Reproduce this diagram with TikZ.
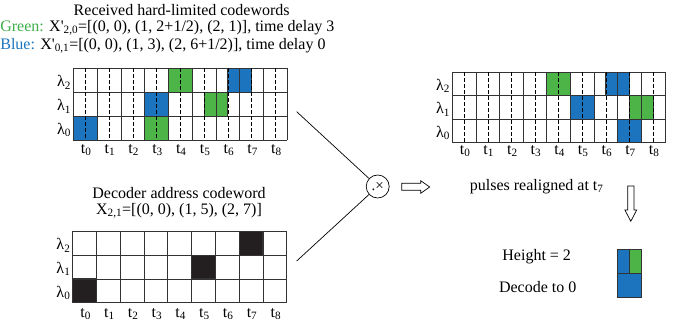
\documentclass[tikz,border=0pt]{standalone}
\usepackage{fontspec}
\setmainfont{Liberation Serif}
\usetikzlibrary{calc}
\definecolor{pblue}{HTML}{1B74BD}
\definecolor{pgreen}{HTML}{4DB447}
\definecolor{pblack}{HTML}{231F20}
\definecolor{gridline}{HTML}{333333}
\definecolor{txtgreen}{HTML}{3DAE49}
\definecolor{txtblue}{HTML}{1B74BD}

% #1 name, #2 x0, #3 y0, #4 cell width, #5 cell height
\newcommand\codegrid[5]{%
  \foreach \i in {0,...,9}
    \draw[gridline] ({#2+\i*#4},#3) -- ({#2+\i*#4},{#3+3*#5});
  \foreach \j in {0,...,3}
    \draw[gridline] (#2,{#3+\j*#5}) -- ({#2+9*#4},{#3+\j*#5});
  \foreach \r in {0,1,2}
    \node[lab, anchor=east] (#1lam\r) at ({#2-2},{#3+(2.5-\r)*#5+2}) {λ\textsubscript{\r}};
}
% chip midlines
\newcommand\chipmid[4]{%
  \foreach \i in {0,...,8}
    \draw[midline] ({#1+(\i+.5)*#3},#2) -- ({#1+(\i+.5)*#3},{#2+3*#4});
}
% time labels: #1 name, #2 x0, #3 y, #4 width
\newcommand\timelabels[4]{%
  \foreach \i in {0,...,8}
    \node[lab] (#1t\i) at ({#2+(\i+.5)*#4+1},#3) {t\textsubscript{\i}};
}
% filled pulses: #1 x0, #2 y0, #3 w, #4 h, #5 colour, #6 list col/row/len
\newcommand\pulses[6]{%
  \foreach \c/\r/\l in {#6}
    \filldraw[fill=#5, draw=gridline, line width=0.9pt]
      ({#1+\c*#3},{#2+(2-\r)*#4}) rectangle ({#1+(\c+\l)*#3},{#2+(3-\r)*#4});
}

\begin{document}
\begin{tikzpicture}[x=1pt,y=-1pt,
  lab/.style={inner sep=0pt, font=\fontsize{16}{18}\selectfont},
  midline/.style={black, dashed, dash pattern=on 4pt off 2pt, line width=0.5pt},
  every path/.style={line width=0.7pt}]
\useasboundingbox (0,0) rectangle (683,326);

% ---- titles
\node[lab] (rxtitle) at (181.7,10) {Received hard-limited codewords};
\node[lab, anchor=west] (greenline) at (0,28)
  {\textcolor{txtgreen}{Green:} X\textquotesingle\textsubscript{2,0}=[(0, 0), (1, 2+1/2), (2, 1)], time delay 3};
\node[lab, anchor=west] (blueline) at (0,46)
  {\textcolor{txtblue}{Blue:} X\textquotesingle\textsubscript{0,1}=[(0, 0), (1, 3), (2, 6+1/2)], time delay 0};

% ---- received codewords
\pulses{73.3}{68.3}{23.78}{23.9}{pgreen}{4/2/1, 5.5/1/1, 3/0/1}
\pulses{73.3}{68.3}{23.78}{23.9}{pblue}{6.5/2/1, 3/1/1, 0/0/1}
\codegrid{rx}{73.3}{68.3}{23.78}{23.9}
\chipmid{73.3}{68.3}{23.78}{23.9}
\timelabels{rx}{73.3}{150}{23.78}

% ---- decoder address codeword
\node[lab] (dectitle) at (179,193) {Decoder address codeword};
\node[lab] (decword) at (179,211) {X\textsubscript{2,1}=[(0, 0), (1, 5), (2, 7)]};
\pulses{72.7}{231.3}{23.78}{23.8}{pblack}{0/0/1, 5/1/1, 7/2/1}
\codegrid{dec}{72.7}{231.3}{23.78}{23.8}
\timelabels{dec}{72.7}{314}{23.78}

% ---- correlator
\node[draw, circle, minimum size=23pt, inner sep=0pt, font=\fontsize{15}{15}\selectfont]
  (mult) at (377.7,186.5) {.\raisebox{0.5pt}{×}};
\coordinate (rxout) at (296.7,111.7);
\coordinate (decout) at (296.7,261);
\draw (rxout) -- (mult);
\draw (decout) -- (mult);

% hollow arrow to the right
\draw[line width=0.7pt] (401.7,183.3) -- (420.7,183.3) -- (420.7,180.7) -- (429.7,187)
  -- (420.7,193.3) -- (420.7,190.3) -- (401.7,190.3) -- cycle;

% ---- realigned pulses
\pulses{452.3}{72}{23.63}{23.57}{pgreen}{4/2/1, 7.5/1/1}
\pulses{452.3}{72}{23.63}{23.57}{pblue}{6.5/2/1, 5/1/1, 7/0/1}
\codegrid{al}{452.3}{72}{23.63}{23.57}
\chipmid{452.3}{72}{23.63}{23.57}
\timelabels{al}{452.3}{151}{23.63}

\node[lab] (realign) at (536.7,186.5) {pulses realigned at t\textsubscript{7}};

% hollow arrow downwards
\draw[line width=0.7pt] (627.7,186) -- (634,186) -- (634,210) -- (636.7,210) -- (630.8,221.3)
  -- (624.9,210) -- (627.7,210) -- cycle;

% ---- decision
\node[lab] (height) at (536.7,256.5) {Height = 2};
\node[lab] (decode) at (537.7,287.5) {Decode to 0};
\filldraw[fill=pblue, draw=gridline, line width=0.9pt] (617.7,273.3) rectangle (641.7,297.3);
\filldraw[fill=pblue, draw=gridline, line width=0.9pt] (617.7,249.3) rectangle (629.7,273.3);
\filldraw[fill=pgreen, draw=gridline, line width=0.9pt] (629.7,249.3) rectangle (641.7,273.3);
\end{tikzpicture}
\end{document}
